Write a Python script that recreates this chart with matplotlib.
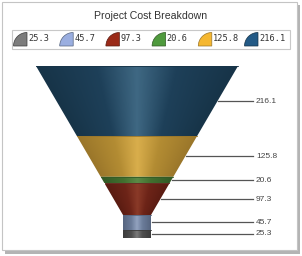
import matplotlib
matplotlib.use('Agg')
import matplotlib.pyplot as plt
import numpy as np
from matplotlib.patches import Polygon, Rectangle, Wedge
from matplotlib.colors import LinearSegmentedColormap

# ---- data (legend order = funnel bottom -> top) ----
title = "Project Cost Breakdown"
labels = ["25.3", "45.7", "97.3", "20.6", "125.8", "216.1"]
values = [25.3, 45.7, 97.3, 20.6, 125.8, 216.1]
legend_colors = ["#7c7c7c", "#9aaee0", "#9a2a18", "#4f9a3d", "#f5b730", "#235a86"]
dark_colors = ["#3c3c3c", "#56657f", "#5a1c12", "#335a26", "#9a762a", "#173448"]
body_colors = ["#4d4d4d", "#6b7c9a", "#6d2418", "#42702f", "#b38c33", "#1e4059"]
high_colors = ["#7a7a7a", "#92a2bf", "#8a3a28", "#5b8a46", "#d9ae4c", "#3f6883"]
neck_count = 2

W, H = 302, 256
fig = plt.figure(figsize=(W / 100, H / 100), dpi=100)
ax = fig.add_axes([0, 0, 1, 1])
ax.set_xlim(0, W)
ax.set_ylim(H, 0)
ax.axis('off')

# frame with shadow
ax.add_patch(Rectangle((4.5, 4.5), 295, 249, facecolor="#b4b4b4", edgecolor="none", zorder=0))
ax.add_patch(Rectangle((2, 2), 295, 248, facecolor="white", edgecolor="#c4c4c4", lw=0.8, zorder=1))

ax.text(151, 16, title, ha='center', va='center', fontsize=7.6,
        family='Liberation Sans', color='#333333', zorder=5)

# legend
ax.add_patch(Rectangle((12, 29.5), 278, 19.5, facecolor="white", edgecolor="#c8c8c8", lw=0.8, zorder=2))
for i, (lab, col, dk) in enumerate(zip(labels, legend_colors, dark_colors)):
    xl = 14.5 + i * 46.2
    ax.add_patch(Wedge((xl + 12.5, 46), 13.5, 180, 270, facecolor=col, edgecolor=dk, lw=0.5, zorder=3))
    ax.text(xl + 13.5, 38.5, lab, ha='left', va='center', fontsize=6.2,
            family='DejaVu Sans Mono', color='#333333', zorder=4)

# funnel geometry
top_y, bottom_y = 66.0, 238.0
cx, top_half, neck_half = 137.0, 101.0, 14.0
funnel_vals = values[::-1]
funnel_idx = list(range(len(values)))[::-1]
scale = (bottom_y - top_y) / sum(values)
neck_top = top_y + scale * sum(funnel_vals[:len(funnel_vals) - neck_count])


def half_width(y):
    if y >= neck_top:
        return neck_half
    return top_half - (top_half - neck_half) * (y - top_y) / (neck_top - top_y)


y0 = top_y
for v, idx in zip(funnel_vals, funnel_idx):
    y1 = y0 + v * scale
    h0, h1 = half_width(y0), half_width(min(y1, neck_top) if y0 < neck_top else y1)
    pts = [(cx - h0, y0), (cx + h0, y0), (cx + h1, y1), (cx - h1, y1)]
    poly = Polygon(pts, closed=True, facecolor='none', edgecolor='none', zorder=3)
    ax.add_patch(poly)
    cmap = LinearSegmentedColormap.from_list(
        'g', [(0, dark_colors[idx]), (0.3, body_colors[idx]), (0.5, high_colors[idx]),
              (0.7, body_colors[idx]), (1, dark_colors[idx])])
    ny, nx = 40, 240
    ys = np.linspace(y0, y1, ny)
    xs = np.linspace(cx - h0, cx + h0, nx)
    img = np.zeros((ny, nx, 4))
    for r, yy in enumerate(ys):
        hw = half_width(yy)
        t = np.clip((xs - (cx - hw)) / (2 * hw), 0, 1)
        img[r] = cmap(t)
    im = ax.imshow(img, extent=[cx - h0, cx + h0, y1, y0], aspect='auto',
                   interpolation='bilinear', zorder=3)
    im.set_clip_path(poly)
    ax.plot([cx - h0, cx + h0], [y0, y0], color=dark_colors[idx], lw=0.6, zorder=4)
    # label
    ym = (y0 + y1) / 2
    ax.plot([cx + half_width(ym) + 0.5, 253], [ym, ym], color='#555555', lw=0.9, zorder=4)
    ax.text(256, ym, labels[idx], ha='left', va='center', fontsize=6,
            family='Liberation Sans', color='#444444', zorder=5)
    y0 = y1

fig.savefig('out.png', dpi=100)
